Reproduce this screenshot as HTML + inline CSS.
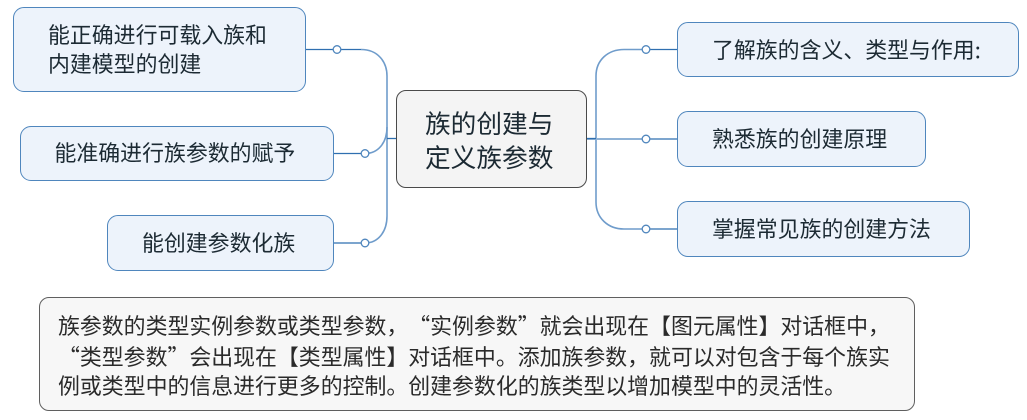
<!DOCTYPE html>
<html lang="zh-CN">
<head>
<meta charset="utf-8">
<style>
html,body{margin:0;padding:0;background:#fff;}
body{width:1027px;height:420px;position:relative;overflow:hidden;font-family:"Noto Sans CJK SC","Liberation Sans",sans-serif;color:#1c2a33;font-kerning:none;font-feature-settings:"chws" 0,"palt" 0,"halt" 0,"kern" 0;text-spacing-trim:space-all;}
.b{position:absolute;box-sizing:border-box;background:#edf3fb;border:1.4px solid #4f86bd;border-radius:11px;}
.c{background:#f4f4f4;border:1.4px solid #4a4a4a;border-radius:10px;}
.n{background:#f7f7f7;border:1.4px solid #5f5f5f;border-radius:10px;}
.t{position:absolute;white-space:nowrap;font-size:21.9px;line-height:30px;}
.g{color:#2a2a2a;}
svg{position:absolute;left:0;top:0;}
</style>
</head>
<body>
<svg width="1027" height="420" viewBox="0 0 1027 420" fill="none">
<g stroke="#6f9ccb" stroke-width="1.6">
<path d="M361 49.5 C378 49.5 387 62 387 76 L387 216 C387 232 378 243 365 243"/>
<path d="M387 127 C387 143 378 153.500 365 153.500"/>
<path d="M646 49.500 H624 C608 49.500 596 60 596 76 L596 202 C596 218 608 229 624 229 H646"/>
<path d="M587 139 H646" stroke="#8fb2d6" stroke-width="2"/>
</g>
<g stroke="#2f6fb0" stroke-width="1.3">
<path d="M305 49.500 H361"/>
<path d="M333 153.500 H365"/>
<path d="M333 243 H365"/>
<path d="M387 138.500 H396"/>
<path d="M587 138.500 H596"/>
<path d="M646 49.500 H677"/>
<path d="M646 139 H677"/>
<path d="M646 229 H677"/>
</g>
<g fill="#fff" stroke="#4f86bd" stroke-width="1.3">
<circle cx="337" cy="49.500" r="3.800"/>
<circle cx="365" cy="153.500" r="3.800"/>
<circle cx="365" cy="243" r="3.800"/>
<circle cx="646" cy="49.500" r="3.800"/>
<circle cx="646" cy="139" r="3.800"/>
<circle cx="646" cy="229" r="3.800"/>
</g>
</svg>

<div class="b" style="left:13px;top:7px;width:293px;height:85px;"></div>
<div class="t" style="left:48px;top:20px;">能正确进行可载入族和</div>
<div class="t" style="left:48px;top:49px;">内建模型的创建</div>

<div class="b" style="left:20px;top:126px;width:314px;height:55px;"></div>
<div class="t" style="left:54.500px;top:138px;">能准确进行族参数的赋予</div>

<div class="b" style="left:107px;top:215px;width:227px;height:56px;"></div>
<div class="t" style="left:142px;top:228px;">能创建参数化族</div>

<div class="b c" style="left:396px;top:90px;width:191px;height:98px;"></div>
<div class="t" style="left:425px;top:108px;font-size:25.700px;">族的创建与</div>
<div class="t" style="left:425px;top:142px;font-size:25.700px;">定义族参数</div>

<div class="b" style="left:677px;top:22px;width:342px;height:55px;"></div>
<div class="t" style="left:712px;top:35px;">了解族的含义、类型与作用:</div>

<div class="b" style="left:677px;top:111px;width:249px;height:56px;"></div>
<div class="t" style="left:712px;top:124px;">熟悉族的创建原理</div>

<div class="b" style="left:677px;top:201px;width:293px;height:56px;"></div>
<div class="t" style="left:712px;top:214px;">掌握常见族的创建方法</div>

<div class="b n" style="left:39px;top:297px;width:876px;height:114px;"></div>
<div class="t g" style="left:58px;top:311px;">族参数的类型实例参数或类型参数，“实例参数”就会出现在【图元属性】对话框中，</div>
<div class="t g" style="left:58px;top:342px;">“类型参数”会出现在【类型属性】对话框中。添加族参数，就可以对包含于每个族实</div>
<div class="t g" style="left:58px;top:371px;">例或类型中的信息进行更多的控制。创建参数化的族类型以增加模型中的灵活性。</div>
</body>
</html>
